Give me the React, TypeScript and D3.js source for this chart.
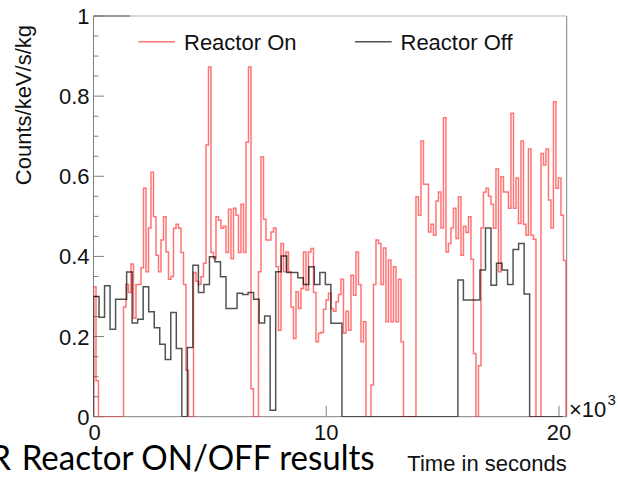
import React from "react";
import * as d3 from "d3";

// Count rates (Counts/keV/s/kg) per time bin, reactor ON
const reactorOn: number[] = [
  0.324, 0.09, 0, 0, 0, 0, 0, 0, 0, 0, 0, 0, 0.274, 0.33, 0.31, 0.381, 0.246, 0.33, 0.33, 0.372,
  0.57, 0.362, 0.471, 0.61, 0.499, 0.403, 0.362, 0.441, 0.499, 0.411, 0.343, 0.35, 0.47, 0.48, 0.47, 0.41, 0.33, 0.116, 0, 0,
  0.36, 0.338, 0.33, 0.349, 0.383, 0.678, 0.873, 0.41, 0.395, 0.499, 0.49, 0.47, 0.475, 0.41, 0.518, 0.394, 0.52, 0.503, 0.41, 0.53,
  0.41, 0.685, 0.873, 0.07, 0, 0, 0.362, 0.649, 0.493, 0.441, 0.441, 0.461, 0.471, 0.374, 0.216, 0.432, 0.362, 0.411, 0.362, 0.274,
  0.195, 0.312, 0.27, 0.32, 0.411, 0.316, 0.411, 0.42, 0.31, 0.187, 0.208, 0.21, 0.268, 0.291, 0.308, 0.27, 0.263, 0.287, 0.305, 0.343,
  0.208, 0.263, 0.216, 0.353, 0.303, 0.411, 0.33, 0.187, 0.237, 0, 0, 0.079, 0.33, 0.441, 0.432, 0.33, 0.421, 0.237, 0.391, 0.237,
  0.374, 0.237, 0.343, 0.187, 0, 0, 0, 0, 0, 0.549, 0.503, 0.688, 0.58, 0.58, 0.461, 0.48, 0.453, 0.538, 0.561, 0.471,
  0.746, 0.411, 0.432, 0.471, 0.52, 0.445, 0.549, 0.403, 0.475, 0.46, 0.499, 0.393, 0.158, 0, 0.127, 0.471, 0.56, 0.57, 0.55, 0.53,
  0.47, 0.618, 0.362, 0.599, 0.561, 0.561, 0.52, 0.757, 0.52, 0.596, 0.482, 0.688, 0.48, 0.453, 0.668, 0.453, 0.443, 0, 0, 0.657,
  0.628, 0.668, 0.541, 0.471, 0.786, 0.57, 0.596, 0.503, 0.39,
];

// Count rates per time bin, reactor OFF
const reactorOff: number[] = [
  0.3, 0.248, 0.327, 0.218, 0.293, 0.293, 0.361, 0.234, 0.243, 0.324, 0.262, 0.222, 0.181, 0.143, 0.26, 0.17, 0, 0.173, 0.378, 0.31,
  0.33, 0.399, 0.387, 0.349, 0.27, 0.27, 0.308, 0.305, 0.31, 0.293, 0.234, 0.251, 0.016, 0.362, 0.401, 0.36, 0.36, 0.347, 0.33, 0.374,
  0.33, 0.36, 0.33, 0.233, 0.233, 0, 0, 0, 0, 0, 0, 0, 0, 0, 0, 0, 0, 0, 0, 0,
  0, 0, 0, 0, 0, 0, 0.341, 0.291, 0.291, 0.291, 0.366, 0.471, 0.328, 0.383, 0.366, 0.33, 0.417, 0.432, 0.306, 0,
  0, 0, 0, 0, 0,
];

// Bin widths in seconds
const onBinWidth = 107.4;
const offBinWidth = 237.2;

const seriesNames = ["Reactor On", "Reactor Off"];
const seriesColors = ["#ff2a2a", "#000000"];

const yMajorTicks = [0, 0.2, 0.4, 0.6, 0.8, 1];
const yTickLabels = ["0", "0.2", "0.4", "0.6", "0.8", "1"];
const xMajorTicks = [0, 10000, 20000];
const xTickLabels = ["0", "10", "20"];

const FONT = "'Liberation Sans', Arial, Helvetica, sans-serif";

export default function App() {
  const W = 618;
  const H = 479;
  const left = 93.5;
  const right = 566.7;
  const top = 16;
  const bottom = 416.7;

  const x = d3.scaleLinear().domain([0, 20331]).range([left, right]);
  const y = d3.scaleLinear().domain([0, 1]).range([bottom, top]);

  const stepLine = d3
    .line<[number, number]>()
    .x((d) => x(d[0]))
    .y((d) => y(d[1]));

  const histPath = (vals: number[], bw: number) => {
    const pts: [number, number][] = [[0, 0]];
    vals.forEach((v, i) => {
      pts.push([i * bw, v]);
      pts.push([(i + 1) * bw, v]);
    });
    pts.push([vals.length * bw, 0]);
    return stepLine(pts) || "";
  };

  const yMinor = d3.range(0, 1.0001, 0.05).filter((v) => !yMajorTicks.some((m) => Math.abs(m - v) < 1e-6));

  const axisColor = "#808080";

  return (
    <svg
      width={W}
      height={H}
      style={{ position: "absolute", left: 0, top: 0, background: "#fff" }}
      fontFamily={FONT}
    >
      <defs>
        <clipPath id="plotArea">
          <rect x={left} y={top} width={right - left} height={bottom - top} />
        </clipPath>
      </defs>

      {/* frame */}
      <line x1={left} x2={right} y1={top} y2={top} stroke="#b5b5b5" strokeWidth={1} />
      <line x1={left} x2={130} y1={top} y2={top} stroke="#555" strokeWidth={1} />
      <line x1={right} x2={right} y1={top} y2={bottom} stroke={axisColor} strokeWidth={1} />
      <line x1={left} x2={left} y1={top} y2={bottom} stroke={axisColor} strokeWidth={1} />
      <line x1={left} x2={right} y1={bottom} y2={bottom} stroke={axisColor} strokeWidth={1} />

      {/* y ticks */}
      {yMajorTicks.map((t) => (
        <line key={"ym" + t} x1={left} x2={left + 10.5} y1={y(t)} y2={y(t)} stroke={axisColor} strokeWidth={1} />
      ))}
      {yMinor.map((t) => (
        <line key={"yn" + t} x1={left} x2={left + 5} y1={y(t)} y2={y(t)} stroke={axisColor} strokeWidth={1} />
      ))}
      {yMajorTicks.map((t, i) => (
        <text key={"yl" + t} x={89.5} y={y(t) + 8} fontSize={22} textAnchor="end" fill="#111">
          {yTickLabels[i]}
        </text>
      ))}

      {/* x ticks */}
      {xMajorTicks.map((t) => (
        <line key={"xm" + t} x1={x(t)} x2={x(t)} y1={bottom} y2={bottom - 11} stroke={axisColor} strokeWidth={1} />
      ))}
      {xMajorTicks.map((t, i) => (
        <text key={"xl" + t} x={x(t) + (i === 0 ? 1 : 0)} y={440} fontSize={22} textAnchor="middle" fill="#111">
          {xTickLabels[i]}
        </text>
      ))}
      <text x={569} y={416.5} fontSize={22} fill="#111">
        ×10
      </text>
      <text x={607.5} y={405} fontSize={15} fill="#111">
        3
      </text>

      {/* histograms */}
      <g clipPath="url(#plotArea)" fill="none" strokeLinejoin="miter">
        <path d={histPath(reactorOn, onBinWidth)} stroke={seriesColors[0]} strokeOpacity={0.65} strokeWidth={1.5} />
        <path d={histPath(reactorOff, offBinWidth)} stroke={seriesColors[1]} strokeOpacity={0.68} strokeWidth={1.5} />
      </g>

      {/* legend */}
      <line x1={138.3} x2={175} y1={41.7} y2={41.7} stroke={seriesColors[0]} strokeOpacity={0.65} strokeWidth={1.5} />
      <text x={184} y={50} fontSize={22} fill="#111">
        {seriesNames[0]}
      </text>
      <line x1={355} x2={391.7} y1={41.7} y2={41.7} stroke={seriesColors[1]} strokeOpacity={0.68} strokeWidth={1.5} />
      <text x={400.5} y={50} fontSize={22} fill="#111">
        {seriesNames[1]}
      </text>

      {/* axis titles */}
      <text
        transform="translate(30.5,25) rotate(-90)"
        fontSize={22}
        textAnchor="end"
        fill="#111"
      >
        Counts/keV/s/kg
      </text>
      <text x={566.7} y={471} fontSize={22} textAnchor="end" fill="#111">
        Time in seconds
      </text>

      {/* caption */}
      <text x={11} y={470} fontSize={34} textAnchor="end" fill="#000" fontFamily="Lato, 'Open Sans', sans-serif">
        R
      </text>
      <text
        x={21.7}
        y={470}
        fontSize={34}
        fill="#000"
        fontFamily="Lato, 'Open Sans', sans-serif"
        textLength={353}
        lengthAdjust="spacingAndGlyphs"
      >
        Reactor ON/OFF results
      </text>
    </svg>
  );
}
